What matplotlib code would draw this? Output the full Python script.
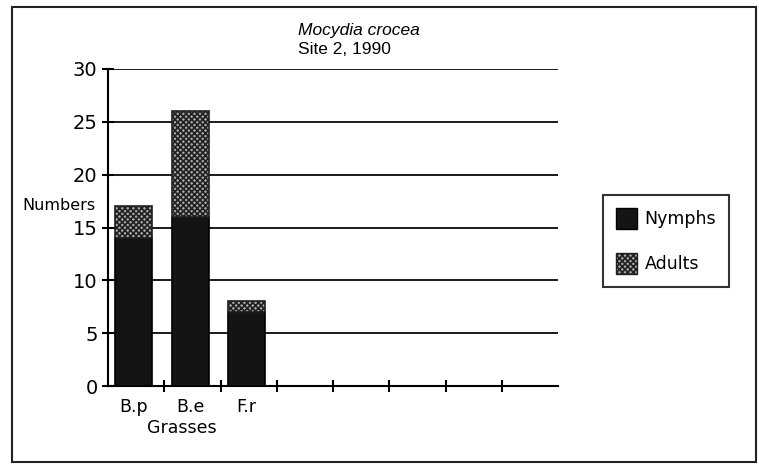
import matplotlib
matplotlib.use("Agg")
import matplotlib.pyplot as plt
import numpy as np
from matplotlib.patches import Patch, Rectangle

categories = ['B.p', 'B.e', 'F.r']
nymphs = [14, 16, 7]
adults = [3, 10, 1]
n_slots = 8
yticks = [0, 5, 10, 15, 20, 25, 30]

plt.rcParams['hatch.linewidth'] = 1.2

W, H = 759, 467
fig = plt.figure(figsize=(W / 100, H / 100), dpi=100)
ax = fig.add_axes([108 / W, 1 - 386 / H, 450 / W, 317 / H])

# bars sit a little left of the slot centre, like the original
x = np.arange(len(categories)) + 0.13
bw = 0.66
ax.bar(x, nymphs, width=bw, align='edge', color='#141414',
       edgecolor='black', lw=1.2, zorder=3)
ax.bar(x, adults, bottom=nymphs, width=bw, align='edge', color='#a8a8a8',
       edgecolor='#202020', hatch='xxxxxx', lw=1.2, zorder=3)

ax.set_xlim(0, n_slots)
ax.set_ylim(0, 30)
ax.set_yticks(yticks)
ax.yaxis.grid(True, color='#1a1a1a', lw=1.4)
ax.set_axisbelow(True)
for s in ['top', 'right']:
    ax.spines[s].set_visible(False)
for s in ['left', 'bottom']:
    ax.spines[s].set_linewidth(1.5)

ax.set_xticks(range(1, n_slots))
ax.set_xticklabels([])
ax.set_xticks(x + bw / 2, minor=True)
ax.set_xticklabels(categories, minor=True, fontsize=12.5)
ax.tick_params(axis='x', which='major', direction='inout', length=9, width=1.5)
ax.tick_params(axis='x', which='minor', length=0, pad=9)
ax.tick_params(axis='y', direction='inout', length=9, width=1.5, labelsize=14, pad=3)

fig.text(95 / W, 1 - 205 / H, 'Numbers', ha='right', va='center', fontsize=11.5)
fig.text(182 / W, 1 - 428 / H, 'Grasses', ha='center', va='center', fontsize=12.5)
fig.text(298 / W, 1 - 31 / H, 'Mocydia crocea', ha='left', va='center',
         fontsize=12.5, style='italic', family='Liberation Sans')
fig.text(298 / W, 1 - 50 / H, 'Site 2, 1990', ha='left', va='center',
         fontsize=12.5, family='Liberation Sans')

handles = [Patch(facecolor='#141414', edgecolor='black', lw=1.0),
           Patch(facecolor='#a8a8a8', edgecolor='#202020', hatch='xxxxxx', lw=1.0)]
leg = fig.legend(handles, ['Nymphs', 'Adults'], loc='upper left',
                 bbox_to_anchor=(603 / W, 1 - 195 / H), borderaxespad=0,
                 fontsize=12.5, handlelength=1.2, handleheight=1.45,
                 labelspacing=1.4, borderpad=0.75, handletextpad=0.45,
                 fancybox=False)
leg.get_frame().set_edgecolor('black')
leg.get_frame().set_linewidth(1.5)

# outer border around the whole chart
fig.patches.append(Rectangle((12 / W, 5 / H), 744 / W, 455 / H, fill=False,
                             edgecolor='#222222', lw=1.5,
                             transform=fig.transFigure, figure=fig))

fig.savefig('out.png', dpi=100)
